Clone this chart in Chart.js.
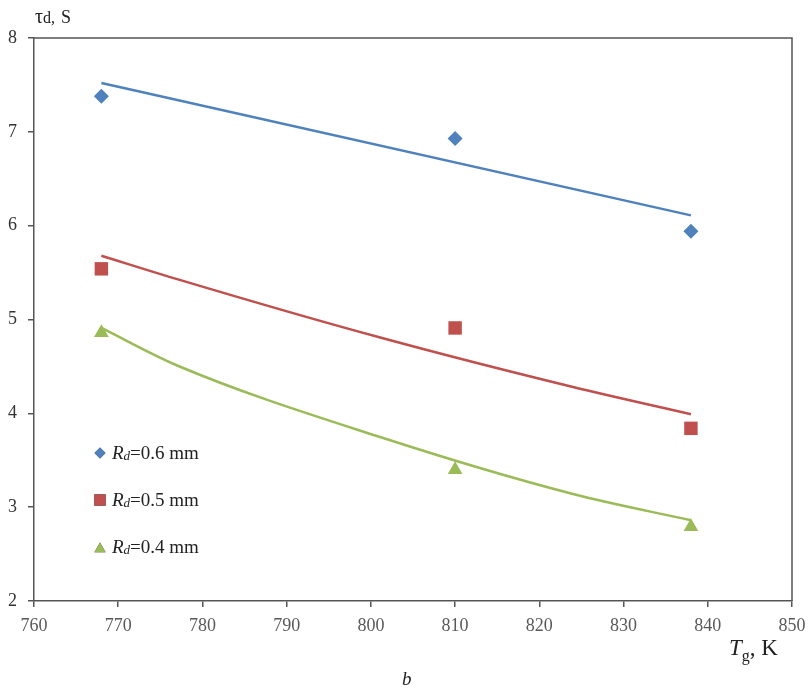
<!DOCTYPE html>
<html>
<head>
<meta charset="utf-8">
<script src="https://cdn.jsdelivr.net/npm/chart.js@4"></script>
<style>
html,body{margin:0;padding:0;background:#fff;}
#wrap{width:809px;height:691px;position:relative;}
</style>
</head>
<body>
<div id="wrap"><canvas id="c" width="809" height="691"></canvas></div>
<script>
// ---- data ----
const tempK = [768, 810, 838];
const tau06 = [7.38, 6.93, 5.94];
const tau05 = [5.54, 4.91, 3.84];
const tau04 = [4.86, 3.40, 2.79];

const trend06X = [768, 838];
const trend06Y = [7.52, 6.11];
const trendCurveX = [768, 777, 801, 824, 838];
const trend05Y = [5.68, 5.43, 4.81, 4.28, 3.99];
const trend04Y = [4.91, 4.51, 3.75, 3.14, 2.86];

const xTicks = [760, 770, 780, 790, 800, 810, 820, 830, 840, 850];
const yTicks = [2, 3, 4, 5, 6, 7, 8];
const seriesLabels = ['0.6 mm', '0.5 mm', '0.4 mm'];

const BLUE = '#4F81BD', RED = '#C0504D', GREEN = '#9BBB59';
const AXIS = '#555555';
const SERIF = '"Liberation Serif", "Times New Roman", serif';

const pts = (xs, ys) => xs.map((x, i) => ({x: x, y: ys[i]}));

const pointSets = [
  {label: seriesLabels[0], data: pts(tempK, tau06), pointStyle: 'rectRot', pointRadius: 7.5, backgroundColor: BLUE, borderColor: BLUE},
  {label: seriesLabels[1], data: pts(tempK, tau05), pointStyle: 'rect', pointRadius: 9.5, backgroundColor: RED, borderColor: RED},
  {label: seriesLabels[2], data: pts(tempK, tau04), pointStyle: 'triangle', pointRadius: 8.5, backgroundColor: GREEN, borderColor: GREEN}
].map(d => Object.assign({showLine: false, borderWidth: 0, pointHoverRadius: d.pointRadius, order: 1, isMarker: true}, d));

const trendSets = [
  {data: pts(trend06X, trend06Y), borderColor: BLUE},
  {data: pts(trendCurveX, trend05Y), borderColor: RED},
  {data: pts(trendCurveX, trend04Y), borderColor: GREEN}
].map(d => Object.assign({label: '', showLine: true, pointRadius: 0, borderWidth: 2.5, cubicInterpolationMode: 'monotone', order: 2}, d));

const overlay = {
  id: 'overlay',
  afterDraw(chart) {
    const ctx = chart.ctx;
    const a = chart.chartArea;
    ctx.save();
    // frame top + right
    ctx.strokeStyle = AXIS;
    ctx.lineWidth = 1.5;
    ctx.beginPath();
    ctx.moveTo(a.left, a.top); ctx.lineTo(a.right, a.top); ctx.lineTo(a.right, a.bottom);
    ctx.stroke();
    ctx.fillStyle = '#222';
    ctx.textBaseline = 'alphabetic';
    // y title: τd, S
    let x0 = 35;
    ctx.font = '20px ' + SERIF;
    ctx.fillText('τ', x0, 23);
    x0 += ctx.measureText('τ').width;
    ctx.font = '16px ' + SERIF;
    ctx.fillText('d,', x0, 23);
    x0 += ctx.measureText('d, ').width + 2;
    ctx.font = '18px ' + SERIF;
    ctx.fillText('S', x0, 23);
    // x title: Tg, K
    ctx.font = 'italic 23px ' + SERIF;
    ctx.fillText('T', 729, 655);
    let w = ctx.measureText('T').width;
    ctx.font = '16px ' + SERIF;
    ctx.fillText('g', 729 + w, 661);
    let w2 = ctx.measureText('g').width;
    ctx.font = '23px ' + SERIF;
    ctx.fillText(', K', 729 + w + w2, 655);
    // caption b
    ctx.font = 'italic 19px ' + SERIF;
    ctx.fillText('b', 402, 685);
    // legend
    const rows = [453, 500, 547];
    chart.data.datasets.filter(d => d.isMarker).forEach((d, i) => {
      const y = rows[i];
      const r = d.pointStyle === 'rect' ? 8 : (d.pointStyle === 'triangle' ? 6.5 : 5.5);
      Chart.helpers.drawPoint(ctx, {pointStyle: d.pointStyle, radius: r, rotation: 0}, 100, d.pointStyle === 'triangle' ? y + 2 : y);
      ctx.fillStyle = d.backgroundColor;
      ctx.fill();
      ctx.fillStyle = '#222';
      ctx.font = 'italic 19px ' + SERIF;
      ctx.fillText('R', 112, y + 6);
      let x = 112 + ctx.measureText('R').width;
      ctx.font = 'italic 13px ' + SERIF;
      ctx.fillText('d', x, y + 7);
      x += ctx.measureText('d').width;
      ctx.font = '19px ' + SERIF;
      ctx.fillText('=' + d.label, x, y + 6);
    });
    ctx.restore();
  }
};

new Chart(document.getElementById('c'), {
  type: 'scatter',
  data: {datasets: [...pointSets, ...trendSets]},
  options: {
    responsive: false,
    animation: false,
    events: [],
    layout: {padding: {top: 38, right: 17, left: 0, bottom: 0}},
    plugins: {legend: {display: false}, tooltip: {enabled: false}},
    scales: {
      x: {
        type: 'linear', min: 760, max: 850,
        afterBuildTicks: s => { s.ticks = xTicks.map(v => ({value: v})); },
        afterFit: s => { s.height = 90; s.paddingRight = 0; s.paddingLeft = 0; },
        border: {color: AXIS, width: 1.5},
        grid: {drawOnChartArea: false, drawTicks: true, tickLength: 6, color: AXIS, lineWidth: 1.5},
        ticks: {color: '#595959', font: {family: SERIF, size: 18}, padding: 8, maxRotation: 0}
      },
      y: {
        type: 'linear', min: 2, max: 8,
        afterBuildTicks: s => { s.ticks = yTicks.map(v => ({value: v})); },
        afterFit: s => { s.width = 34; },
        border: {color: AXIS, width: 1.5},
        grid: {drawOnChartArea: false, drawTicks: true, tickLength: 6, color: AXIS, lineWidth: 1.5},
        ticks: {color: '#333', font: {family: SERIF, size: 18}, padding: 11}
      }
    }
  },
  plugins: [overlay]
});
</script>
</body>
</html>
